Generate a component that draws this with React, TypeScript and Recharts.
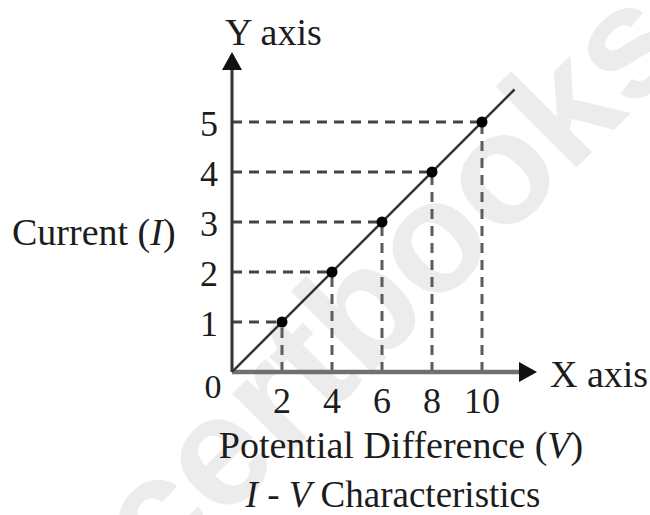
import { ComposedChart, Line, ReferenceLine, Scatter, XAxis, YAxis } from 'recharts';

// tick labels
const tickV = [2, 4, 6, 8, 10];
const tickI = [1, 2, 3, 4, 5];

// measured points (V, I)
const pointV = [2, 4, 6, 8, 10];
const pointI = [1, 2, 3, 4, 5];

// straight characteristic line, runs a bit past the last point
const lineV = [0, 11.3];
const lineI = [0, 5.65];

// where the axis arrows end
const axisEndV = 12.2;
const axisEndI = 6.4;

const points = pointV.map((v, k) => ({ v, i: pointI[k] }));
const line = lineV.map((v, k) => ({ v, i: lineI[k] }));

const SERIF = "'Liberation Serif', 'Times New Roman', serif";
const INK = '#1c1c1c';

function arrowShape(color: string, width: number) {
  return (props: any) => {
    const { x1, y1, x2, y2 } = props;
    const dx = x2 - x1;
    const dy = y2 - y1;
    const len = Math.hypot(dx, dy) || 1;
    const ux = dx / len;
    const uy = dy / len;
    const L = 18;
    const W = 10;
    const bx = x2 - ux * L;
    const by = y2 - uy * L;
    return (
      <g>
        <line x1={x1} y1={y1} x2={bx + ux * 2} y2={by + uy * 2} stroke={color} strokeWidth={width} />
        <polygon points={`${x2},${y2} ${bx - uy * W},${by + ux * W} ${bx + uy * W},${by - ux * W}`} fill="#111" />
      </g>
    );
  };
}

function XTick(props: any) {
  const { x, y, payload } = props;
  return (
    <text x={x} y={y + 41} textAnchor="middle" fontFamily={SERIF} fontSize={36} fill={INK}>
      {payload.value}
    </text>
  );
}

function YTick(props: any) {
  const { x, y, payload } = props;
  return (
    <text x={x - 14} y={y + 14} textAnchor="end" fontFamily={SERIF} fontSize={36} fill={INK}>
      {payload.value}
    </text>
  );
}

export default function App() {
  return (
    <div style={{ position: 'absolute', left: 0, top: 0, width: 650, height: 515, background: '#fff' }}>
      <ComposedChart width={650} height={515} margin={{ top: 52, right: 113, bottom: 113, left: 172 }}>
        {/* faint site watermark */}
        <text
          x={392}
          y={352}
          transform="rotate(-45 392 352)"
          textAnchor="middle"
          fontFamily="'Liberation Sans', Arial, sans-serif"
          fontWeight="bold"
          fontSize={158}
          fill="#ececec"
        >
          ncertbooks
        </text>

        <XAxis
          type="number"
          dataKey="v"
          domain={[0, axisEndV]}
          ticks={tickV}
          height={30}
          axisLine={false}
          tickLine={false}
          tickSize={0}
          tickMargin={0}
          tick={XTick}
          interval={0}
          allowDataOverflow
        />
        <YAxis
          type="number"
          dataKey="i"
          domain={[0, axisEndI]}
          ticks={tickI}
          width={60}
          axisLine={false}
          tickLine={false}
          tickSize={0}
          tickMargin={0}
          tick={YTick}
          interval={0}
          allowDataOverflow
        />

        {points.map((p) => (
          <ReferenceLine
            key={`h${p.v}`}
            segment={[{ x: 0, y: p.i }, { x: p.v, y: p.i }]}
            stroke="#444"
            strokeWidth={3}
            strokeDasharray="10 7"
          />
        ))}
        {points.map((p) => (
          <ReferenceLine
            key={`v${p.v}`}
            segment={[{ x: p.v, y: 0 }, { x: p.v, y: p.i }]}
            stroke="#5c5c5c"
            strokeWidth={3}
            strokeDasharray="10 7"
          />
        ))}

        <ReferenceLine segment={[{ x: 0, y: 0 }, { x: axisEndV, y: 0 }]} shape={arrowShape('#707070', 4.5)} />
        <ReferenceLine segment={[{ x: 0, y: 0 }, { x: 0, y: axisEndI }]} shape={arrowShape('#333', 3)} />

        <Line data={line} dataKey="i" stroke="#333" strokeWidth={2.5} dot={false} isAnimationActive={false} />
        <Scatter
          data={points}
          dataKey="i"
          fill="#000"
          isAnimationActive={false}
          shape={(p: any) => <circle cx={p.cx} cy={p.cy} r={5.5} fill="#000" />}
        />

        <text x={225} y={45} fontFamily={SERIF} fontSize={38} fill={INK}>
          Y axis
        </text>
        <text x={550} y={387} fontFamily={SERIF} fontSize={38} fill={INK}>
          X axis
        </text>
        <text x={213} y={398} textAnchor="middle" fontFamily={SERIF} fontSize={34} fill={INK}>
          0
        </text>
        <text x={12} y={245} fontFamily={SERIF} fontSize={38} fill={INK}>
          Current (<tspan fontStyle="italic">I</tspan>)
        </text>
        <text x={401} y={458} textAnchor="middle" fontFamily={SERIF} fontSize={38} fill={INK}>
          Potential Difference (<tspan fontStyle="italic">V</tspan>)
        </text>
        <text x={393} y={507} textAnchor="middle" fontFamily={SERIF} fontSize={37} fill={INK}>
          <tspan fontStyle="italic">I</tspan> - <tspan fontStyle="italic">V</tspan> Characteristics
        </text>
      </ComposedChart>
    </div>
  );
}
